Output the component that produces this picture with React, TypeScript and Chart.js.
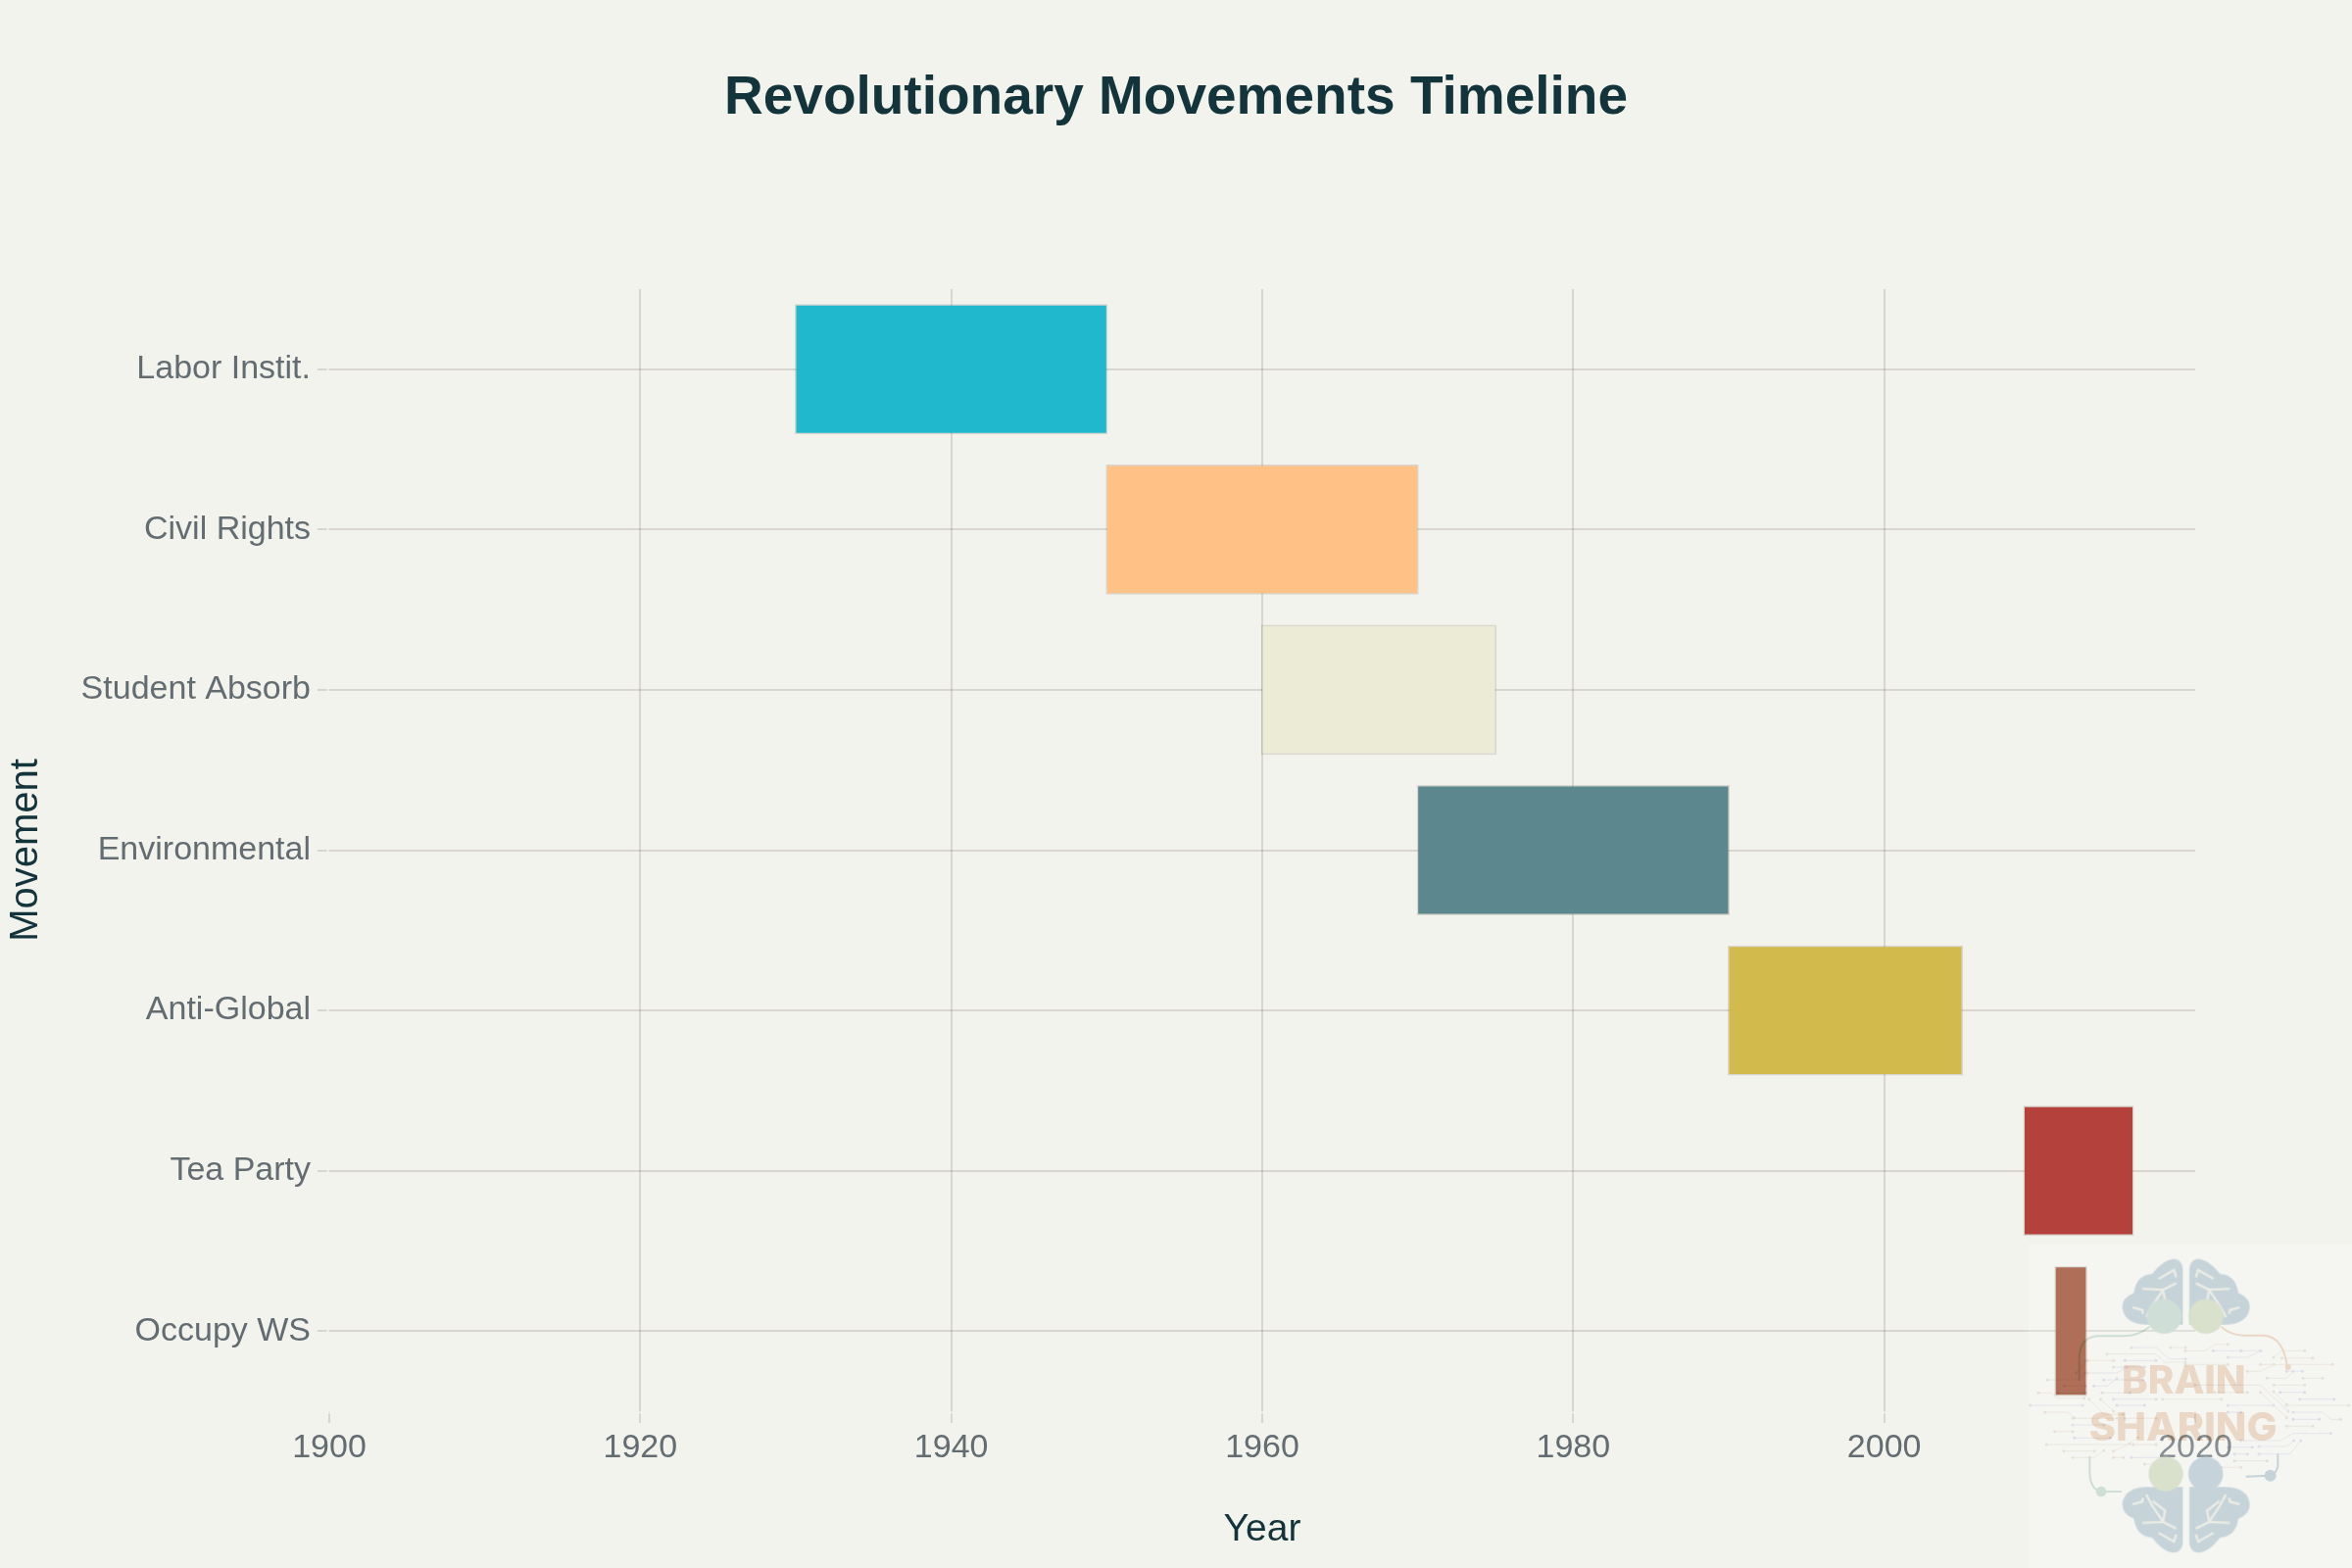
import React, { useEffect, useRef } from "react";
import { Chart, registerables } from "chart.js";

Chart.register(...registerables);

const movements = ["Labor Instit.", "Civil Rights", "Student Absorb", "Environmental", "Anti-Global", "Tea Party", "Occupy WS"];
const startYears = [1930, 1950, 1960, 1970, 1990, 2009, 2011];
const endYears = [1950, 1970, 1975, 1990, 2005, 2016, 2013];
const barColors = ["#1FB8CD", "#FFC185", "#ECEBD5", "#5D878F", "#D2BA4C", "#B4413C", "#964325"];
const chartTitle = "Revolutionary Movements Timeline";
const xAxisTitle = "Year";
const yAxisTitle = "Movement";
const xMin = 1900;
const xMax = 2020;
const xStep = 20;

const BG = "#F3F3EE";
const GRID = "rgba(94,82,64,0.18)";
const FONT = "'Liberation Sans', Arial, sans-serif";

const tickGap = {
  id: "tickGap",
  beforeDatasetsDraw(chart: any) {
    const { ctx, chartArea: a } = chart;
    ctx.save();
    ctx.fillStyle = BG;
    ctx.fillRect(a.left - 2.5, a.top, 2, a.bottom - a.top);
    ctx.fillRect(a.left - 3, a.bottom + 0.5, a.right - a.left + 6, 2);
    ctx.restore();
  },
};

const circuitLines: number[][] = [
  [525,405,600,405,640,440,690,440],[645,405,690,405],[690,415,750,415,780,395,820,395],[775,415,860,415],[860,415,920,415],
  [450,425,600,425,625,450,690,450],[385,445,470,445],[505,445,600,445],[820,435,880,435,920,415],[960,435,985,415,1055,415],[985,437,1080,437],
  [355,483,390,445],[470,465,565,465],[690,457,820,457],[920,457,1140,457],[385,483,480,483,510,465],[1000,478,1048,478],[880,478,920,478,960,457],
  [268,504,350,504,390,483],[440,504,560,504],[940,499,1000,499,1020,478],[1050,499,1110,499],[320,523,385,523],[410,523,450,523,480,500],[720,520,920,520,1005,600],[960,520,1055,520],
  [240,544,280,544,300,560,380,560],[300,544,385,544],[435,544,520,544],[780,542,880,542],[920,542,1000,620],[980,542,1055,542],[470,563,600,563],[620,563,800,563],[960,540,1000,580],[1040,563,1145,563],
  [215,582,375,582],[395,563,440,610,500,610],[430,563,470,600],[480,582,565,582],[820,582,960,582],[1000,582,1190,582],[260,603,330,603,350,620],[820,603,860,603],[1020,603,1110,603,1135,625,1165,625],
  [345,622,480,622],[505,622,600,622],[1020,625,1100,625],[345,642,440,642],[1000,646,1080,646],[290,662,345,662],[350,682,460,682],[860,690,980,690,1020,668,1135,668],
  [265,702,510,702,545,680],[530,702,600,702],[820,710,895,710],[915,708,1000,708,1022,690],[318,722,412,722],[470,722,520,700],[840,731,880,731],[915,731,1010,731,1043,690],
  [345,742,410,742,440,720],[470,742,500,742],[525,742,640,742],[840,752,940,752],[565,762,640,762],[800,772,860,772],
];
const circuitColors = ["#E8E8F2", "#ECEEE5", "#F2EAE2", "#E6E5F3"];

const BRAIN_BLUE = "#CEDDE5";
const PALE_GREEN = "#D7E8E1";
const PALE_ORANGE = "#F5E0D0";

const LOBE = "M682 170 Q682 135 652 134 Q620 138 588 180 Q540 183 532 238 Q495 252 497 285 Q505 335 575 335 L682 335 Z";
const veins = [
  "M608 195 L655 168 L662 190",
  "M558 225 L622 228 L662 208",
  "M622 228 L590 275 L570 312",
  "M622 232 L628 262 L590 292",
  "M528 282 L558 290 L560 302",
];

function Brain() {
  return (
    <g>
      <path d={LOBE} fill={BRAIN_BLUE} />
      {veins.map((d, i) => (
        <path key={i} d={d} fill="none" stroke="#F7F7F3" strokeWidth={7} />
      ))}
    </g>
  );
}

function Logo() {
  return (
    <svg
      viewBox="0 0 1200 1080"
      width={400}
      height={360}
      style={{ position: "absolute", left: 2000, top: 1240, display: "block" }}
    >
      <rect x={210} y={90} width={990} height={990} fill="#FFFFFF" fillOpacity={0.23} />
      <g style={{ mixBlendMode: "multiply" }}>
        {circuitLines.map((l, i) => {
          const c = circuitColors[i % circuitColors.length];
          return (
            <g key={i}>
              <polyline points={l.join(" ")} fill="none" stroke={c} strokeWidth={2} />
              <circle cx={l[0]} cy={l[1]} r={4.5} fill={c} />
              <circle cx={l[l.length - 2]} cy={l[l.length - 1]} r={4.5} fill={c} />
            </g>
          );
        })}
        <path d="M580 342 Q545 370 500 370 L420 370 Q365 375 365 440 L365 507" fill="none" stroke={PALE_GREEN} strokeWidth={6} />
        <path d="M800 342 Q830 368 870 368 L930 368 Q990 372 1002 465" fill="none" stroke={PALE_ORANGE} strokeWidth={6} />
        <circle cx={1004} cy={465} r={9} fill={PALE_ORANGE} />
        <path d="M397 738 L397 790 Q400 840 432 846 L495 846" fill="none" stroke={PALE_GREEN} strokeWidth={6} />
        <circle cx={432} cy={846} r={16} fill={PALE_GREEN} />
        <path d="M973 730 L973 770 Q965 797 945 797 L875 800" fill="none" stroke={BRAIN_BLUE} strokeWidth={6} />
        <circle cx={950} cy={797} r={18} fill={BRAIN_BLUE} />
      </g>
      <g style={{ mixBlendMode: "multiply" }}>
        <Brain />
        <g transform="translate(1384,0) scale(-1,1)"><Brain /></g>
        <g transform="translate(0,1167) scale(1,-1)"><Brain /></g>
        <g transform="translate(1384,1167) scale(-1,-1)"><Brain /></g>
      </g>
      <circle cx={625} cy={310} r={53} fill="#CFDFD8" />
      <circle cx={753} cy={310} r={53} fill="#D9E0CC" />
      <circle cx={630} cy={792} r={53} fill="#D9E0CC" />
      <circle cx={752} cy={792} r={53} fill="#C6D3DB" />
      <g style={{ mixBlendMode: "multiply" }}>
        <text x={685} y={545} textAnchor="middle" textLength={380} lengthAdjust="spacingAndGlyphs"
          style={{ font: `800 120px Inter, sans-serif`, fill: PALE_ORANGE }}>BRAIN</text>
        <text x={683} y={690} textAnchor="middle" textLength={575} lengthAdjust="spacingAndGlyphs"
          style={{ font: `800 120px Inter, sans-serif`, fill: PALE_ORANGE }}>SHARING</text>
      </g>
    </svg>
  );
}

export default function App() {
  const ref = useRef<HTMLCanvasElement>(null);
  useEffect(() => {
    document.body.style.margin = "0";
    document.body.style.background = BG;
    const chart = new Chart(ref.current!, {
      type: "bar",
      data: {
        labels: movements,
        datasets: [
          {
            data: movements.map((_, i) => [startYears[i], endYears[i]]) as any,
            backgroundColor: barColors,
            borderColor: GRID,
            borderWidth: 1.5,
            borderSkipped: false,
            inflateAmount: 1,
            categoryPercentage: 1,
            barPercentage: 0.8,
          },
        ],
      },
      options: {
        indexAxis: "y",
        responsive: false,
        animation: false,
        plugins: {
          legend: { display: false },
          tooltip: { enabled: false },
          title: {
            display: true,
            text: chartTitle,
            color: "#13343B",
            font: { family: FONT, size: 55, weight: "bold" },
            padding: { top: 68, bottom: 161 },
          },
        },
        scales: {
          x: {
            type: "linear",
            min: xMin,
            max: xMax,
            afterFit(s: any) { s.height = 160; },
            ticks: {
              stepSize: xStep,
              color: "#626C71",
              padding: 5,
              font: { family: FONT, size: 34 },
              maxRotation: 0,
              callback: (v: any) => String(v),
            },
            border: { display: false },
            grid: {
              color: (c: any) => (c.tick && (c.tick.value === xMin || c.tick.value === xMax) ? "rgba(0,0,0,0)" : GRID),
              tickColor: GRID,
              tickLength: 12,
              lineWidth: 2,
            },
            title: {
              display: true,
              text: xAxisTitle,
              color: "#13343B",
              font: { family: FONT, size: 39 },
              padding: { top: 0, bottom: 15 },
            },
          },
          y: {
            type: "category",
            afterFit(s: any) { s.width = 336; },
            ticks: { color: "#626C71", padding: 7, font: { family: FONT, size: 34 } },
            border: { display: false },
            grid: { offset: false, color: GRID, tickColor: GRID, tickLength: 12, lineWidth: 2 },
            title: {
              display: true,
              text: yAxisTitle,
              color: "#13343B",
              font: { family: FONT, size: 40 },
              padding: { top: 3, bottom: 0 },
            },
          },
          yRightSpace: {
            type: "linear",
            position: "right",
            afterFit(s: any) { s.width = 160; },
            ticks: { display: false },
            border: { display: false },
            grid: { display: false },
          },
        },
      },
      plugins: [tickGap],
    } as any);
    return () => chart.destroy();
  }, []);
  return (
    <div style={{ position: "relative", width: 2400, height: 1600, overflow: "hidden", background: BG }}>
      <canvas ref={ref} width={2400} height={1600} style={{ display: "block" }} />
      <Logo />
    </div>
  );
}
